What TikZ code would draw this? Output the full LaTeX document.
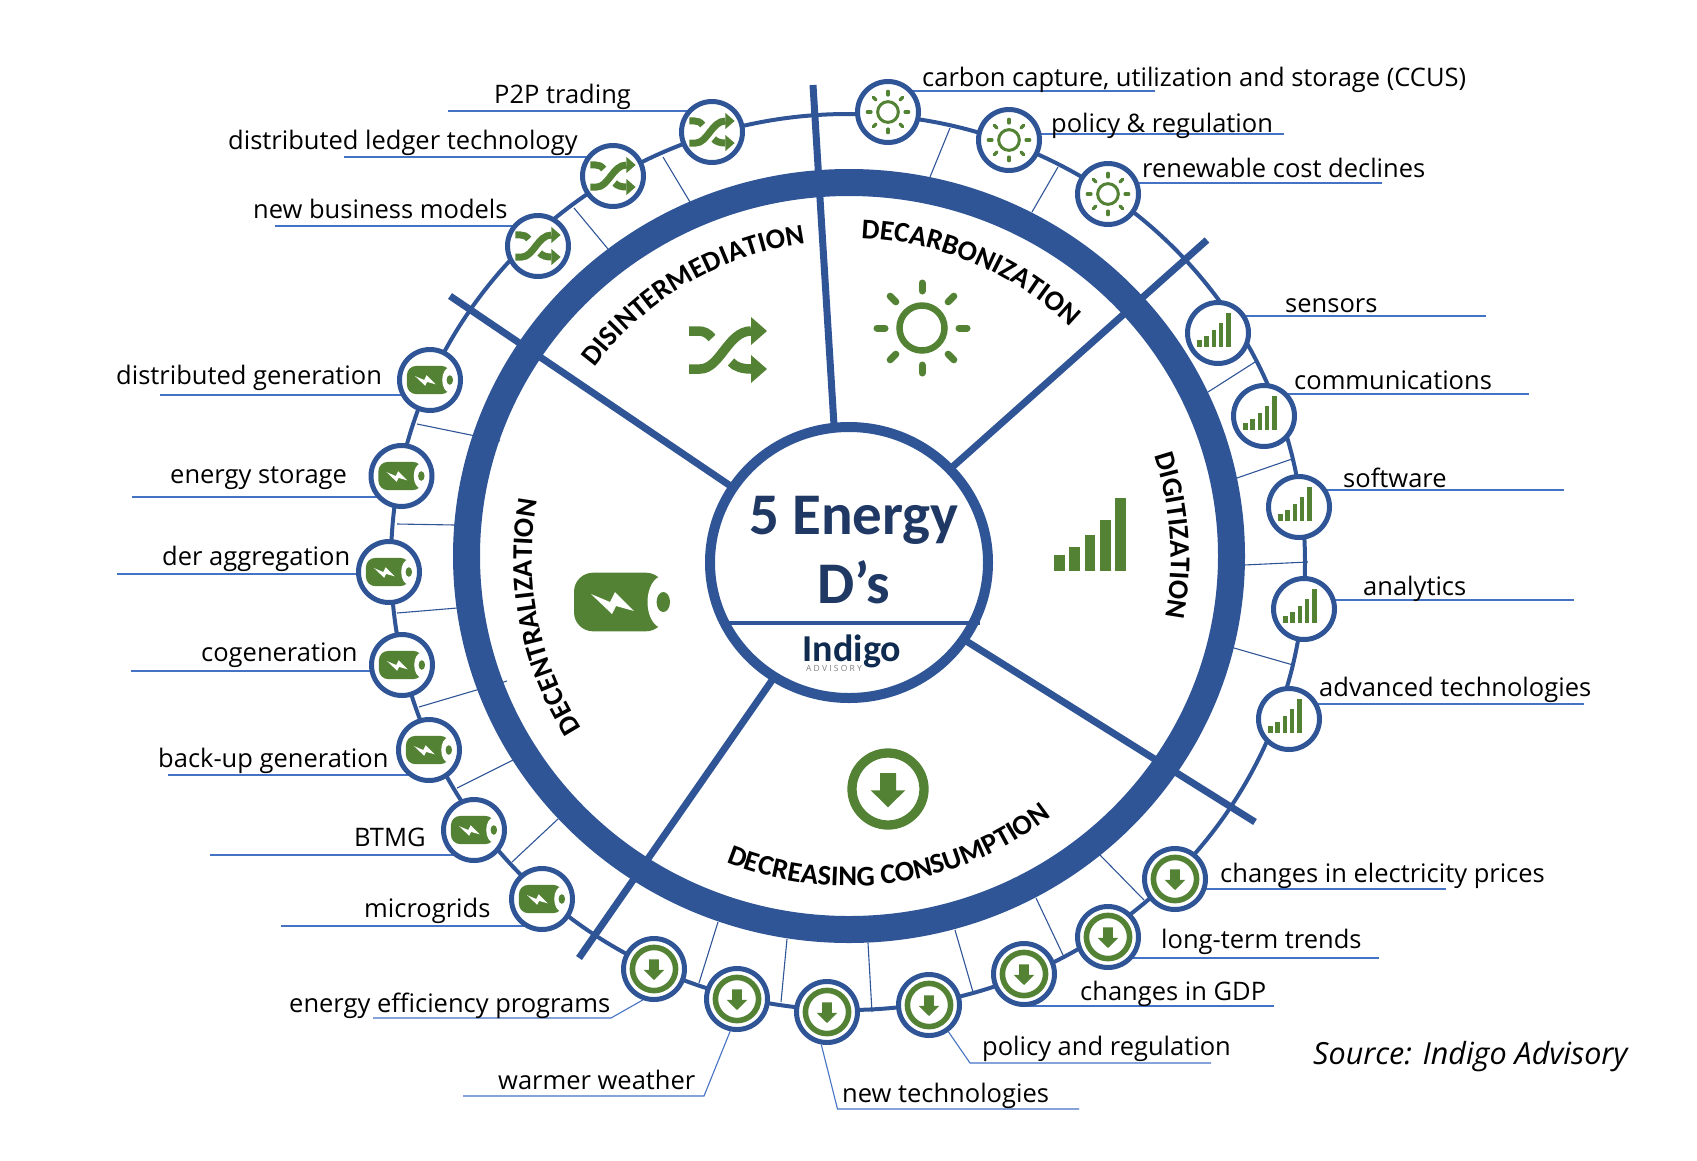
\documentclass[tikz,border=0pt]{standalone}
\usepackage{fontspec}
\usepackage{xcolor}
\setmainfont{Open Sans}
\newfontfamily\calibrifont{Carlito}
\usetikzlibrary{positioning,backgrounds,shapes.geometric,decorations.text}
\definecolor{ringblue}{HTML}{2F5597}
\definecolor{leafgreen}{HTML}{548235}
\definecolor{leadblue}{HTML}{4472C4}
\definecolor{navy}{HTML}{1F3864}
\definecolor{inkblue}{HTML}{0F2B50}
\newcommand{\arcfont}{\fontsize{28.5}{28.5}\selectfont\calibrifont\bfseries}
\tikzset{
  spot/.style={circle, draw=ringblue, fill=white, line width=5pt, minimum size=61pt, inner sep=0pt},
  lab/.style={anchor=base west, inner sep=0pt, font=\fontsize{25.5}{25.5}\selectfont},
  leader/.style={draw=leadblue, line width=1.1pt},
  rib/.style={draw=ringblue, line width=1.1pt},
  spoke/.style={draw=ringblue, line width=7pt},
  arctitle/.style={decorate, decoration={text along path, text align=center, text={|\arcfont|#1}}},
}
% icons: position, scale
\newcommand{\sunmark}[2]{\begin{scope}[shift={#1},scale=#2]
  \draw [leafgreen, line width=#2*6.5pt] (0,0) circle (22.5);
  \foreach \a in {0,45,...,315} \draw [leafgreen, line width=#2*7pt, line cap=round] (\a:37) -- (\a:45);
\end{scope}}
\newcommand{\shufmark}[2]{\begin{scope}[shift={#1},scale=#2]
  \draw [leafgreen, line width={(#2*6+3.5)*1pt}] (-39,-19) -- (-28,-19) .. controls (-8,-19) and (0,19) .. (23,19);
  \draw [leafgreen, line width={(#2*6+3.5)*1pt}] (-39,19) -- (-30,19) .. controls (-24,19) and (-20,17) .. (-16,12);
  \draw [leafgreen, line width={(#2*6+3.5)*1pt}] (3,-12) .. controls (7,-17) and (15,-19) .. (23,-19);
  \fill [leafgreen] (23,33) -- (39,19) -- (23,5) -- cycle;
  \fill [leafgreen] (23,-5) -- (39,-19) -- (23,-33) -- cycle;
\end{scope}}
\newcommand{\barmark}[2]{\begin{scope}[shift={#1},scale=#2]
  \fill [leafgreen] (-36,-36.5) rectangle ++(10.7,15.7);
  \fill [leafgreen] (-20.7,-36.5) rectangle ++(10.7,24);
  \fill [leafgreen] (-5.4,-36.5) rectangle ++(10.7,35.7);
  \fill [leafgreen] (9.9,-36.5) rectangle ++(10.7,50.7);
  \fill [leafgreen] (25.2,-36.5) rectangle ++(10.7,73);
\end{scope}}
\newcommand{\batmark}[2]{\begin{scope}[shift={#1},scale=#2]
  \fill [leafgreen, rounded corners=#2*19pt] (-48,-29.3) rectangle (43,29.3);
  \fill [white] (41,0) ellipse [x radius=15.5, y radius=26];
  \fill [leafgreen] (41.3,0) ellipse [x radius=6.7, y radius=10];
  \fill [white] (-31,8) -- (-12,0) -- (-7,10) -- (12,-9) -- (-6,-4) -- (-10,-12) -- cycle;
\end{scope}}
\newcommand{\dwnmark}[2]{\begin{scope}[shift={#1},scale=#2]
  \draw [leafgreen, line width=#2*9.3pt] (0,0) circle (36);
  \fill [leafgreen] (-8,16) -- (8,16) -- (8,-1.3) -- (17.3,-1.3) -- (0,-18.3) -- (-17.3,-1.3) -- (-8,-1.3) -- cycle;
\end{scope}}

\begin{document}
\begin{tikzpicture}[x=1pt, y=1pt]
      \useasboundingbox (0,0) rectangle (1697,-1160);

      % wheel
      \node [ellipse, draw=ringblue, line width=27pt, minimum width=765pt, minimum height=747pt, inner sep=0pt] (ring) at (849,-556) {};
      \node [ellipse, draw=ringblue, fill=white, line width=10pt, minimum width=278pt, minimum height=271pt, inner sep=0pt] (hub) at (849,-562.5) {};
      \coordinate (spl) at (729,-623);  \coordinate (spr) at (980,-623);
      \draw [ringblue, line width=3.5pt] (spl) -- (spr);
      \node [inner sep=0pt, anchor=base, text=navy, font=\fontsize{59}{59}\selectfont\calibrifont\bfseries] (five) at (854,-534) {5 Energy};
      \node [inner sep=0pt, anchor=base, text=navy, font=\fontsize{59}{59}\selectfont\calibrifont\bfseries] (dees) at (854,-603) {D’s};
      \node [inner sep=0pt, anchor=base, text=inkblue, font=\fontsize{38}{38}\selectfont\calibrifont\bfseries] (indigo) at (852,-661) {Indigo};
      \node [inner sep=0pt, anchor=base, text=gray, font=\fontsize{8.5}{9}\selectfont] (advis) at (834,-671) {A D V I S O R Y};

      % titles
      \path [arctitle=DISINTERMEDIATION] ([shift=(150.5:318)]849,-558) arc (150.5:90.5:318);
      \path [arctitle=DECARBONIZATION] ([shift=(97:320)]849,-558) arc (97:37:320);
      \path [arctitle=DIGITIZATION] ([shift=(34:322)]849,-558) arc (34:-26:322);
      \path [arctitle=DECENTRALIZATION] ([shift=(221:317)]849,-558) arc (221:161:317);
      \path [arctitle=DECREASING CONSUMPTION] ([shift=(-122:328)]849,-558) arc (-122:-42:328);

      % large icons
      \shufmark{(728,-350)}{1}
      \sunmark{(922,-328)}{1}
      \barmark{(1090,-534)}{1}
      \batmark{(622,-602)}{1}
      \dwnmark{(888,-789)}{1}

      % spots
      \node [spot] (shuf1) at (712,-132) {};   \shufmark{(shuf1)}{.58}
      \node [spot] (shuf2) at (613,-176) {};   \shufmark{(shuf2)}{.58}
      \node [spot] (shuf3) at (538,-246) {};   \shufmark{(shuf3)}{.58}
      \node [spot] (sun1) at (888,-112) {};    \sunmark{(sun1)}{.46}
      \node [spot] (sun2) at (1009,-140) {};   \sunmark{(sun2)}{.46}
      \node [spot] (sun3) at (1108,-194) {};   \sunmark{(sun3)}{.46}
      \node [spot] (bar1) at (1218,-333) {};   \barmark{([shift={(-4,3)}]bar1)}{.46}
      \node [spot] (bar2) at (1264,-416) {};   \barmark{([shift={(-4,3)}]bar2)}{.46}
      \node [spot] (bar3) at (1299,-507) {};   \barmark{([shift={(-4,3)}]bar3)}{.46}
      \node [spot] (bar4) at (1304,-609) {};   \barmark{([shift={(-4,3)}]bar4)}{.46}
      \node [spot] (bar5) at (1289,-719) {};   \barmark{([shift={(-4,3)}]bar5)}{.46}
      \node [spot] (bat1) at (430,-380) {};    \batmark{(bat1)}{.48}
      \node [spot] (bat2) at (401.5,-476) {};  \batmark{(bat2)}{.48}
      \node [spot] (bat3) at (389,-572) {};    \batmark{(bat3)}{.48}
      \node [spot] (bat4) at (402,-665) {};    \batmark{(bat4)}{.48}
      \node [spot] (bat5) at (429,-750) {};    \batmark{(bat5)}{.48}
      \node [spot] (bat6) at (474,-830) {};    \batmark{(bat6)}{.48}
      \node [spot] (bat7) at (542,-899) {};    \batmark{(bat7)}{.48}
      \node [spot] (dwn1) at (654,-969) {};    \dwnmark{(dwn1)}{.6}
      \node [spot] (dwn2) at (737,-999) {};    \dwnmark{(dwn2)}{.6}
      \node [spot] (dwn3) at (827,-1012) {};   \dwnmark{(dwn3)}{.6}
      \node [spot] (dwn4) at (929,-1005) {};   \dwnmark{(dwn4)}{.6}
      \node [spot] (dwn5) at (1024,-974) {};   \dwnmark{(dwn5)}{.6}
      \node [spot] (dwn6) at (1108,-937) {};   \dwnmark{(dwn6)}{.6}
      \node [spot] (dwn7) at (1175,-879) {};   \dwnmark{(dwn7)}{.6}

      % labels
      \node [lab] (lshuf1) at (494,-103) {P2P trading};
      \node [lab] (lshuf2) at (228,-149) {distributed ledger technology};
      \node [lab] (lshuf3) at (253,-218) {new business models};
      \node [lab] (lsun1) at (922,-86) {carbon capture, utilization and storage (CCUS)};
      \node [lab] (lsun2) at (1051,-132) {policy \& regulation};
      \node [lab] (lsun3) at (1142,-177) {renewable cost declines};
      \node [lab] (lbar1) at (1285,-312) {sensors};
      \node [lab] (lbar2) at (1294,-389) {communications};
      \node [lab] (lbar3) at (1343,-487) {software};
      \node [lab] (lbar4) at (1363,-595) {analytics};
      \node [lab] (lbar5) at (1319,-696) {advanced technologies};
      \node [lab] (lbat1) at (116,-384) {distributed generation};
      \node [lab] (lbat2) at (170,-483) {energy storage};
      \node [lab] (lbat3) at (162,-565) {der aggregation};
      \node [lab] (lbat4) at (201,-661) {cogeneration};
      \node [lab] (lbat5) at (158,-767) {back-up generation};
      \node [lab] (lbat6) at (354,-846) {BTMG};
      \node [lab] (lbat7) at (364,-917) {microgrids};
      \node [lab] (ldwn1) at (289,-1012) {energy efficiency programs};
      \node [lab] (ldwn2) at (498,-1089) {warmer weather};
      \node [lab] (ldwn3) at (842,-1102) {new technologies};
      \node [lab] (ldwn4) at (982,-1055) {policy and regulation};
      \node [lab] (ldwn5) at (1080,-1000) {changes in GDP};
      \node [lab] (ldwn6) at (1161,-948) {long-term trends};
      \node [lab] (ldwn7) at (1220,-882) {changes in electricity prices};
      \node [lab, font=\fontsize{30.5}{30.5}\selectfont\itshape] (source) at (1313,-1064) {Source: Indigo Advisory};

      % free ends
      \coordinate (tip1) at (813,-85);   \coordinate (foot1) at (834,-425);
      \coordinate (tip2) at (1207,-240); \coordinate (foot2) at (949,-470);
      \coordinate (tip3) at (1255,-822); \coordinate (foot3) at (963,-639);
      \coordinate (tip4) at (579,-958);  \coordinate (foot4) at (775,-676);
      \coordinate (tip5) at (450,-296);  \coordinate (foot5) at (735,-489);

      \coordinate (eshuf1) at (448,-111);   \coordinate (eshuf2) at (344,-157);   \coordinate (eshuf3) at (275,-226);
      \coordinate (esun1) at (1155,-91);    \coordinate (esun2) at (1284,-134);   \coordinate (esun3) at (1382,-183);
      \coordinate (ebar1) at (1486,-316);   \coordinate (ebar2) at (1529,-394);   \coordinate (ebar3) at (1564,-490);
      \coordinate (ebar4) at (1574,-600);   \coordinate (ebar5) at (1584,-704);
      \coordinate (ebat1) at (160,-395);    \coordinate (ebat2) at (132,-497);    \coordinate (ebat3) at (117,-574);
      \coordinate (ebat4) at (131,-671);    \coordinate (ebat5) at (168,-775);    \coordinate (ebat6) at (210,-855);
      \coordinate (ebat7) at (281,-926);
      \coordinate (edwn5) at (1274,-1006);  \coordinate (edwn6) at (1379,-958);   \coordinate (edwn7) at (1446,-889);
      \coordinate (kdwn1) at (611,-1018);   \coordinate (edwn1) at (373,-1018);
      \coordinate (kdwn2) at (704,-1096);   \coordinate (edwn2) at (463,-1096);
      \coordinate (kdwn3) at (837.5,-1109); \coordinate (edwn3) at (1079,-1109);
      \coordinate (kdwn4) at (970,-1063);   \coordinate (edwn4) at (1211,-1063);

      \begin{scope}[on background layer]
      \draw [ringblue, line width=4pt] (848,-562) ellipse [x radius=457, y radius=448];
      \draw [spoke] (foot1) -- (tip1);
      \draw [spoke] (foot2) -- (tip2);
      \draw [spoke] (foot3) -- (tip3);
      \draw [spoke] (foot4) -- (tip4);
      \draw [spoke] (foot5) -- (tip5);

      \draw [leader] (eshuf1) -- (eshuf1 -| shuf1);
      \draw [leader] (eshuf2) -- (eshuf2 -| shuf2);
      \draw [leader] (eshuf3) -- (eshuf3 -| shuf3);
      \draw [leader] (esun1) -- (esun1 -| sun1);
      \draw [leader] (esun2) -- (esun2 -| sun2);
      \draw [leader] (esun3) -- (esun3 -| sun3);
      \draw [leader] (ebar1) -- (ebar1 -| bar1);
      \draw [leader] (ebar2) -- (ebar2 -| bar2);
      \draw [leader] (ebar3) -- (ebar3 -| bar3);
      \draw [leader] (ebar4) -- (ebar4 -| bar4);
      \draw [leader] (ebar5) -- (ebar5 -| bar5);
      \draw [leader] (ebat1) -- (ebat1 -| bat1);
      \draw [leader] (ebat2) -- (ebat2 -| bat2);
      \draw [leader] (ebat3) -- (ebat3 -| bat3);
      \draw [leader] (ebat4) -- (ebat4 -| bat4);
      \draw [leader] (ebat5) -- (ebat5 -| bat5);
      \draw [leader] (ebat6) -- (ebat6 -| bat6);
      \draw [leader] (ebat7) -- (ebat7 -| bat7);
      \draw [leader] (edwn5) -- (edwn5 -| dwn5);
      \draw [leader] (edwn6) -- (edwn6 -| dwn6);
      \draw [leader] (edwn7) -- (edwn7 -| dwn7);
      \draw [leader] (dwn1.250) -- (kdwn1) -- (edwn1);
      \draw [leader] (dwn2.258) -- (kdwn2) -- (edwn2);
      \draw [leader] (dwn3.260) -- (kdwn3) -- (edwn3);
      \draw [leader] (dwn4.-54) -- (kdwn4) -- (edwn4);

      % ribs between the ring and the orbit
      \coordinate (ra1) at (663,-157);   \coordinate (rb1) at (690,-202);   \draw [rib] (ra1) -- (rb1);
      \coordinate (ra2) at (574,-208);   \coordinate (rb2) at (608,-249);   \draw [rib] (ra2) -- (rb2);
      \coordinate (ra3) at (950,-128);   \coordinate (rb3) at (930,-177);   \draw [rib] (ra3) -- (rb3);
      \coordinate (ra4) at (1058,-167);  \coordinate (rb4) at (1032,-212);  \draw [rib] (ra4) -- (rb4);
      \coordinate (ra5) at (1255,-362);  \coordinate (rb5) at (1208,-392);  \draw [rib] (ra5) -- (rb5);
      \coordinate (ra6) at (1292,-459);  \coordinate (rb6) at (1237,-478);  \draw [rib] (ra6) -- (rb6);
      \coordinate (ra7) at (1308,-562);  \coordinate (rb7) at (1244,-565);  \draw [rib] (ra7) -- (rb7);
      \coordinate (ra8) at (1293,-665);  \coordinate (rb8) at (1234,-648);  \draw [rib] (ra8) -- (rb8);
      \coordinate (ra9) at (417,-424);   \coordinate (rb9) at (500,-441);   \draw [rib] (ra9) -- (rb9);
      \coordinate (ra10) at (397,-524);  \coordinate (rb10) at (455,-525);  \draw [rib] (ra10) -- (rb10);
      \coordinate (ra11) at (397,-613);  \coordinate (rb11) at (457,-608);  \draw [rib] (ra11) -- (rb11);
      \coordinate (ra12) at (419,-707);  \coordinate (rb12) at (507,-681);  \draw [rib] (ra12) -- (rb12);
      \coordinate (ra13) at (457,-788);  \coordinate (rb13) at (537,-748);  \draw [rib] (ra13) -- (rb13);
      \coordinate (ra14) at (512,-862);  \coordinate (rb14) at (558,-819);  \draw [rib] (ra14) -- (rb14);
      \coordinate (ra15) at (699,-983);  \coordinate (rb15) at (718,-922);  \draw [rib] (ra15) -- (rb15);
      \coordinate (ra16) at (781,-1002); \coordinate (rb16) at (787,-939);  \draw [rib] (ra16) -- (rb16);
      \coordinate (ra17) at (872,-1012); \coordinate (rb17) at (868,-943);  \draw [rib] (ra17) -- (rb17);
      \coordinate (ra18) at (973,-992);  \coordinate (rb18) at (955,-930);  \draw [rib] (ra18) -- (rb18);
      \coordinate (ra19) at (1063,-955); \coordinate (rb19) at (1036,-898); \draw [rib] (ra19) -- (rb19);
      \coordinate (ra20) at (1144,-900); \coordinate (rb20) at (1100,-855); \draw [rib] (ra20) -- (rb20);
      \end{scope}
\end{tikzpicture}
\end{document}
